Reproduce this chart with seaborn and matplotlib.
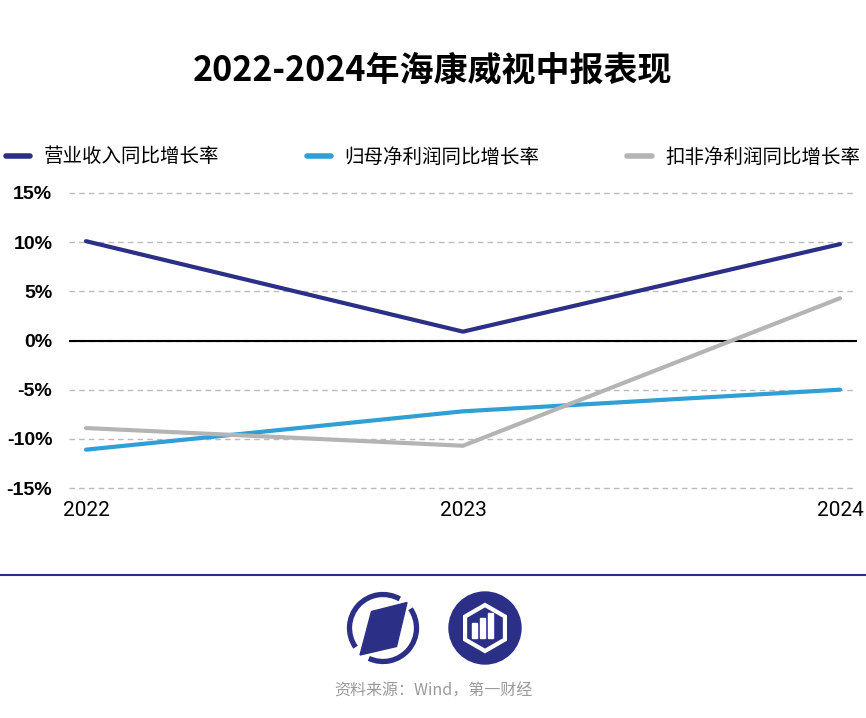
import numpy as np
import pandas as pd
import matplotlib
matplotlib.use('Agg')
import matplotlib.pyplot as plt
from matplotlib.patches import Arc, Polygon, Circle, RegularPolygon, Rectangle
import seaborn as sns

# ── Data ───────────────────────────────────────────────────────────────────
years = [2022, 2023, 2024]
revenue_yoy = [10.1, 0.9, 9.8]
net_profit_yoy = [-11.1, -7.2, -5.0]
deducted_profit_yoy = [-8.9, -10.7, 4.3]
series_names = ['营业收入同比增长率', '归母净利润同比增长率', '扣非净利润同比增长率']
series_colors = ['#2B2F86', '#2F9FD6', '#B4B4B4']
y_ticks = [-15, -10, -5, 0, 5, 10, 15]
title = '2022-2024年海康威视中报表现'
source = '资料来源：Wind，第一财经'

df = pd.concat([
    pd.DataFrame({'year': years, 'value': vals, 'series': name})
    for name, vals in zip(series_names, [revenue_yoy, net_profit_yoy, deducted_profit_yoy])
], ignore_index=True)

# ── Style ──────────────────────────────────────────────────────────────────
sns.set_style('white')
plt.rcParams['font.family'] = ['Noto Sans CJK SC', 'DejaVu Sans']
plt.rcParams['text.color'] = 'black'
plt.rcParams['xtick.color'] = 'black'
plt.rcParams['ytick.color'] = 'black'
navy = series_colors[0]

fig = plt.figure(figsize=(8.66, 7.18), dpi=100)
W, H = 866, 718
ax = fig.add_axes([69 / W, 1 - 490 / H, (857 - 69) / W, (490 - 191) / H])

sns.lineplot(data=df, x='year', y='value', hue='series', hue_order=series_names,
             palette=series_colors, errorbar=None, lw=3, ax=ax, legend=False)
handles = list(ax.get_lines())[:3]

ax.set_xlim(2021.955, 2024.045)
ax.set_ylim(-15.2, 15.2)
ax.set_yticks(y_ticks)
ax.set_yticklabels([f'{v}%' for v in y_ticks], fontfamily='Liberation Sans',
                   fontweight='bold', fontsize=14)
ax.set_xticks(years)
ax.set_xticklabels([str(y) for y in years], fontfamily='Roboto', fontsize=15)
ax.tick_params(axis='y', length=0, pad=12)
ax.tick_params(axis='x', length=0, pad=8)
ax.set_xlabel(''); ax.set_ylabel('')
ax.set_axisbelow(True)
ax.yaxis.grid(True, ls=(0, (4, 3)), color='#BBBBBB', lw=1)
ax.axhline(0, color='black', lw=1.5, zorder=1.5)
sns.despine(ax=ax, left=True, bottom=True)

# ── Title & legend ─────────────────────────────────────────────────────────
fig.text(433 / W, 1 - 70 / H, title, ha='center', va='center', fontsize=24.5,
         fontweight='heavy', color='black')
leg = fig.legend(handles, series_names, loc='center', bbox_to_anchor=(433 / W, 1 - 157 / H),
                 ncol=3, frameon=False, fontsize=14, handlelength=1.25, handletextpad=0.7,
                 columnspacing=4.5, borderpad=0, borderaxespad=0)
for ln in leg.get_lines():
    ln.set_linewidth(4)

# ── Footer: divider, logos, source ─────────────────────────────────────────
deco = fig.add_axes([0, 0, 1, 1])
deco.set_xlim(0, W); deco.set_ylim(H, 0)
deco.axis('off')
deco.plot([0, W], [575, 575], color=navy, lw=1.5)

c1 = (383, 628)
deco.add_patch(Arc(c1, 67, 67, theta1=145, theta2=300, color=navy, lw=3.8))
deco.add_patch(Arc(c1, 67, 67, theta1=-35, theta2=115, color=navy, lw=3.8))
deco.add_patch(Polygon([(371.5, 611.5), (407, 602.5), (396.5, 646.5), (360, 655)],
                       closed=True, color=navy))

c2 = (485, 628)
deco.add_patch(Circle(c2, 36, color=navy))
deco.add_patch(RegularPolygon(c2, numVertices=6, radius=23, orientation=0,
                              fill=False, edgecolor='white', lw=3))
for x0, top in [(472, 623), (480, 618), (488, 613)]:
    deco.add_patch(Rectangle((x0, top), 5, 638 - top, color='white'))

deco.text(433, 691, source, ha='center', va='center', fontsize=11.5, color='#9A9A9A')

fig.savefig('out.png', dpi=100)
plt.close(fig)
